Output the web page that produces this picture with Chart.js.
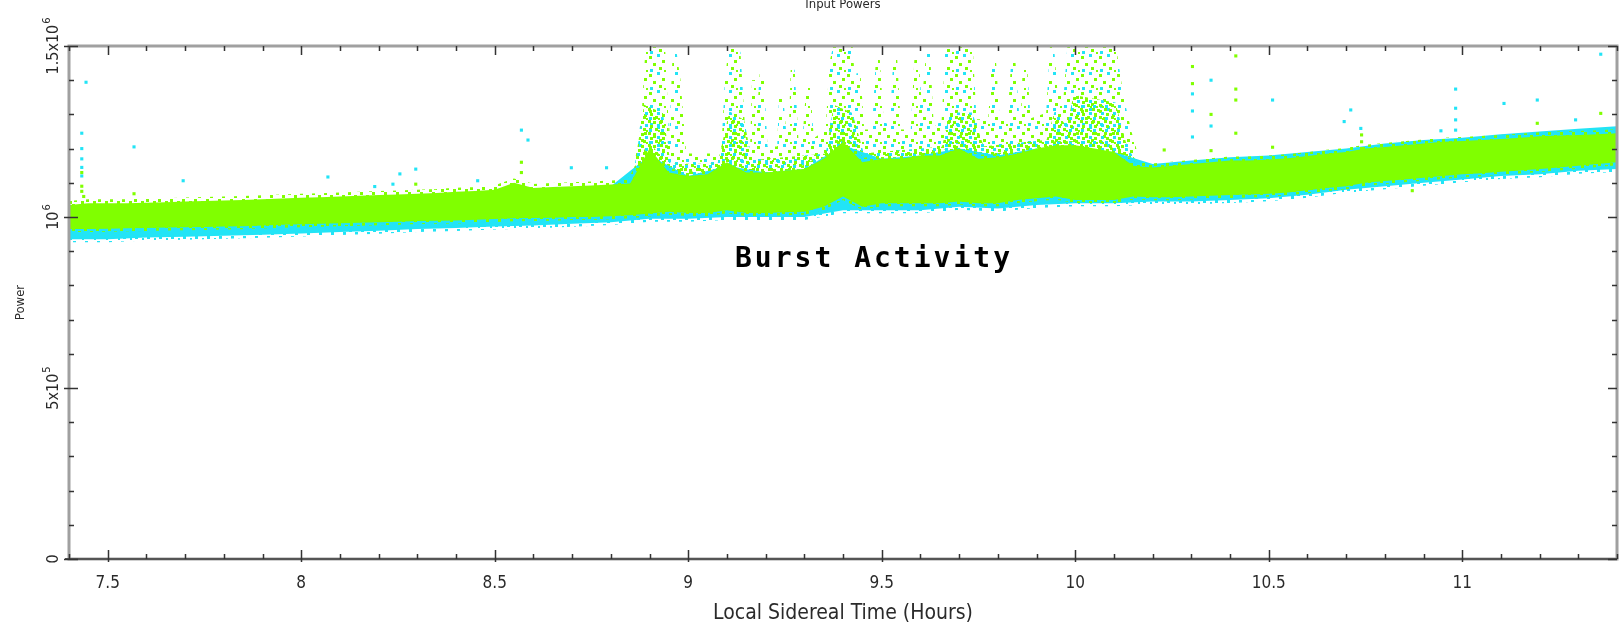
<!DOCTYPE html>
<html>
<head>
<meta charset="utf-8">
<script src="https://cdn.jsdelivr.net/npm/chart.js@4.4.1/dist/chart.umd.min.js"></script>
<style>
  html, body { margin: 0; padding: 0; background: #fff; }
  #wrap { width: 1621px; height: 628px; position: relative; }
</style>
</head>
<body>
<div id="wrap"><canvas id="powerChart"></canvas></div>
<script>
// ============================================================================
// DATA  (power in units of 10^6, time in LST hours)
// ============================================================================
const bandX = [
  7.40, 7.45, 7.50, 7.55, 7.60, 7.65, 7.70, 7.75, 7.80, 7.85,
  7.90, 7.95, 8.00, 8.05, 8.10, 8.15, 8.20, 8.25, 8.30, 8.35,
  8.40, 8.45, 8.50, 8.55, 8.60, 8.65, 8.70, 8.75, 8.80, 8.85,
  8.90, 8.95, 9.00, 9.05, 9.10, 9.15, 9.20, 9.25, 9.30, 9.35,
  9.40, 9.45, 9.50, 9.55, 9.60, 9.65, 9.70, 9.75, 9.80, 9.85,
  9.90, 9.95, 10.00, 10.05, 10.10, 10.15, 10.20, 10.25, 10.30, 10.35,
  10.40, 10.45, 10.50, 10.55, 10.60, 10.65, 10.70, 10.75, 10.80, 10.85,
  10.90, 10.95, 11.00, 11.05, 11.10, 11.15, 11.20, 11.25, 11.30, 11.35,
  11.40,
];
const greenHi = [
  1.035, 1.040, 1.040, 1.040, 1.042, 1.043, 1.045, 1.047, 1.048, 1.050,
  1.052, 1.054, 1.056, 1.058, 1.060, 1.062, 1.064, 1.066, 1.068, 1.070,
  1.074, 1.076, 1.080, 1.100, 1.085, 1.088, 1.090, 1.092, 1.095, 1.098,
  1.200, 1.130, 1.120, 1.125, 1.160, 1.130, 1.130, 1.135, 1.140, 1.170,
  1.220, 1.160, 1.170, 1.170, 1.180, 1.180, 1.200, 1.170, 1.175, 1.185,
  1.200, 1.210, 1.210, 1.200, 1.190, 1.150, 1.145, 1.150, 1.155, 1.160,
  1.165, 1.165, 1.168, 1.172, 1.178, 1.185, 1.190, 1.200, 1.205, 1.210,
  1.215, 1.220, 1.222, 1.225, 1.228, 1.232, 1.236, 1.238, 1.240, 1.242,
  1.245,
];
const greenLo = [
  0.965, 0.965, 0.966, 0.967, 0.968, 0.969, 0.970, 0.971, 0.972, 0.973,
  0.975, 0.977, 0.979, 0.980, 0.982, 0.983, 0.985, 0.986, 0.988, 0.989,
  0.990, 0.992, 0.994, 0.996, 0.997, 0.998, 1.000, 1.000, 1.002, 1.005,
  1.010, 1.015, 1.012, 1.012, 1.020, 1.012, 1.012, 1.014, 1.015, 1.030,
  1.060, 1.030, 1.040, 1.040, 1.040, 1.040, 1.045, 1.040, 1.040, 1.050,
  1.055, 1.060, 1.050, 1.050, 1.050, 1.060, 1.058, 1.058, 1.060, 1.062,
  1.064, 1.066, 1.068, 1.072, 1.078, 1.085, 1.090, 1.100, 1.105, 1.110,
  1.115, 1.120, 1.125, 1.128, 1.132, 1.136, 1.140, 1.145, 1.150, 1.155,
  1.160,
];

const cyanX = [
  7.4, 7.5, 7.6, 7.7, 7.8, 7.9, 8.0, 8.1, 8.2, 8.3,
  8.4, 8.5, 8.6, 8.7, 8.8, 8.9, 9.0, 9.1, 9.2, 9.3,
  9.4, 9.5, 9.6, 9.7, 9.8, 9.9, 10.0, 10.1, 10.2, 10.3,
  10.4, 10.5, 10.6, 10.7, 10.8, 10.9, 11.0, 11.1, 11.2, 11.3,
  11.4,
];
const cyanLo = [
  0.935, 0.935, 0.940, 0.942, 0.945, 0.948, 0.952, 0.956, 0.960, 0.965,
  0.968, 0.972, 0.975, 0.980, 0.985, 0.995, 0.995, 1.000, 1.000, 1.000,
  1.020, 1.020, 1.020, 1.030, 1.025, 1.035, 1.040, 1.040, 1.045, 1.045,
  1.050, 1.055, 1.065, 1.080, 1.090, 1.100, 1.110, 1.120, 1.125, 1.135,
  1.140,
];
const cyanHi = [
  1.020, 1.025, 1.028, 1.030, 1.035, 1.040, 1.045, 1.050, 1.055, 1.060,
  1.065, 1.070, 1.075, 1.080, 1.090, 1.180, 1.120, 1.150, 1.130, 1.140,
  1.210, 1.170, 1.180, 1.200, 1.180, 1.200, 1.200, 1.190, 1.155, 1.165,
  1.175, 1.180, 1.190, 1.200, 1.215, 1.225, 1.232, 1.242, 1.250, 1.258,
  1.265,
];

// burst spikes: outer envelope of the scattered points
const burstX = [
  8.86, 8.885, 8.895, 8.935, 8.945, 8.955, 8.965, 8.975, 8.99, 9.09,
  9.10, 9.11, 9.13, 9.145, 9.165, 9.17, 9.18, 9.19, 9.20, 9.235,
  9.24, 9.25, 9.265, 9.27, 9.28, 9.30, 9.31, 9.32, 9.36, 9.37,
  9.38, 9.42, 9.43, 9.44, 9.45, 9.48, 9.49, 9.50, 9.525, 9.535,
  9.545, 9.58, 9.59, 9.60, 9.61, 9.62, 9.63, 9.66, 9.67, 9.73,
  9.74, 9.78, 9.79, 9.80, 9.83, 9.84, 9.85, 9.865, 9.87, 9.88,
  9.93, 9.94, 9.95, 9.975, 9.985, 10.10, 10.12, 10.14, 10.16,
];
const burstTop = [
  1.10, 1.30, 1.50, 1.50, 1.25, 1.20, 1.48, 1.40, 1.18, 1.18,
  1.40, 1.50, 1.48, 1.20, 1.20, 1.40, 1.25, 1.42, 1.20, 1.20,
  1.36, 1.22, 1.25, 1.43, 1.22, 1.22, 1.38, 1.22, 1.25, 1.45,
  1.50, 1.50, 1.30, 1.42, 1.25, 1.25, 1.46, 1.28, 1.25, 1.46,
  1.25, 1.25, 1.47, 1.30, 1.35, 1.48, 1.25, 1.28, 1.50, 1.50,
  1.28, 1.28, 1.46, 1.28, 1.28, 1.46, 1.30, 1.30, 1.45, 1.28,
  1.30, 1.50, 1.35, 1.35, 1.50, 1.50, 1.35, 1.25, 1.17,
];
// burst spikes: where the points are still dense
const burstMidX = [
  8.86, 8.89, 8.93, 8.95, 9.08, 9.11, 9.14, 9.16, 9.36, 9.38,
  9.42, 9.45, 9.66, 9.68, 9.73, 9.76, 9.93, 9.95, 9.98, 10.00,
  10.10, 10.13, 10.16,
];
const burstMid = [
  1.10, 1.32, 1.30, 1.15, 1.15, 1.30, 1.28, 1.16, 1.18, 1.32,
  1.30, 1.18, 1.20, 1.30, 1.30, 1.20, 1.22, 1.30, 1.25, 1.35,
  1.33, 1.20, 1.15,
];

// isolated points
const cyanDotX = [
  7.444, 7.433, 7.433, 7.433, 7.433, 7.433, 7.568, 7.695, 8.069, 8.190,
  8.237, 8.255, 8.296, 8.456, 8.569, 8.586, 8.698, 8.789, 10.303, 10.303,
  10.303, 10.351, 10.351, 10.510, 10.695, 10.712, 10.738, 10.945, 10.983, 10.983,
  10.983, 10.983, 11.108, 11.194, 11.293, 11.358,
];
const cyanDotY = [
  1.394, 1.245, 1.200, 1.170, 1.145, 1.120, 1.205, 1.106, 1.117, 1.089,
  1.096, 1.126, 1.140, 1.106, 1.254, 1.225, 1.144, 1.144, 1.360, 1.310,
  1.234, 1.400, 1.266, 1.342, 1.279, 1.313, 1.259, 1.252, 1.374, 1.318,
  1.284, 1.254, 1.332, 1.342, 1.284, 1.476,
];
const greenDotX = [
  7.433, 7.433, 7.433, 7.438, 7.568, 8.296, 8.569, 8.569, 10.303, 10.303,
  10.351, 10.351, 10.415, 10.415, 10.415, 10.415, 10.510, 10.230, 10.740, 10.740,
  10.740, 11.194, 11.358, 10.871,
];
const greenDotY = [
  1.130, 1.090, 1.075, 1.060, 1.068, 1.096, 1.160, 1.130, 1.440, 1.390,
  1.300, 1.194, 1.471, 1.374, 1.342, 1.245, 1.204, 1.196, 1.240, 1.220,
  1.200, 1.274, 1.303, 1.077,
];

const xTicks = [7.5, 8, 8.5, 9, 9.5, 10, 10.5, 11];
const yTicks = [0, 0.5, 1, 1.5];
const yTickBase = ["0", "5x10", "10", "1.5x10"];
const yTickExp = ["", "5", "6", "6"];

// ============================================================================
// STYLE
// ============================================================================
const GREEN = "#80ff00";
const CYAN = "#22e4f6";
const TXT = "#2a2a2a";
const FONT = '"DejaVu Sans Condensed", "Liberation Sans Narrow", "DejaVu Sans", sans-serif';

function speckle(size, dots) {
  const c = document.createElement("canvas");
  c.width = size;
  c.height = size;
  const g = c.getContext("2d");
  dots.forEach(([x, y, col]) => {
    g.fillStyle = col;
    g.fillRect(x, y, 3, 3);
  });
  return g.createPattern(c, "repeat");
}

// hand placed dot textures
const burstFill = speckle(18, [
  [1, 2, GREEN], [9, 0, CYAN], [14, 6, GREEN], [5, 9, GREEN],
  [11, 13, GREEN], [2, 15, CYAN], [16, 16, GREEN],
]);
const midFill = speckle(12, [
  [0, 0, GREEN], [5, 1, GREEN], [9, 4, CYAN], [2, 5, GREEN],
  [7, 8, GREEN], [1, 9, CYAN], [10, 10, GREEN],
]);
const greenEdge = speckle(12, [
  [0, 0, GREEN], [6, 3, GREEN], [2, 7, GREEN], [9, 9, GREEN],
]);
const cyanEdge = speckle(12, [
  [1, 1, CYAN], [7, 4, CYAN], [3, 8, CYAN], [10, 10, CYAN],
]);

const pts = (xs, ys) => xs.map((x, i) => ({ x, y: ys[i] }));

const lineBase = {
  pointRadius: 0,
  tension: 0,
  clip: 0,
};

// ============================================================================
// PLUGIN: frame, inward ticks, y labels, annotations
// ============================================================================
const frameTicks = {
  id: "frameTicks",
  afterDraw(chart) {
    const { ctx, chartArea: a, scales } = chart;
    const xs = scales.x;
    const ys = scales.y;
    ctx.save();

    ctx.strokeStyle = "#a0a0a0";
    ctx.lineWidth = 3;
    ctx.strokeRect(a.left, a.top, a.right - a.left, a.bottom - a.top);
    ctx.strokeStyle = "#555";
    ctx.lineWidth = 2;
    ctx.beginPath();
    ctx.moveTo(a.left - 4, a.bottom);
    ctx.lineTo(a.right, a.bottom);
    ctx.stroke();

    // ticks pointing into the plot
    ctx.strokeStyle = "#333";
    ctx.lineWidth = 1.5;
    ctx.beginPath();
    for (let i = 0; i <= 40; i++) {
      const v = 7.4 + i * 0.1;
      const px = Math.round(xs.getPixelForValue(v)) + 0.5;
      const major = Math.abs(v * 2 - Math.round(v * 2)) < 1e-6;
      const len = major ? 9 : 5;
      ctx.moveTo(px, a.bottom + (major ? 3 : 0));
      ctx.lineTo(px, a.bottom - len);
      ctx.moveTo(px, a.top);
      ctx.lineTo(px, a.top + len);
    }
    for (let i = 0; i <= 15; i++) {
      const v = i * 0.1;
      const py = Math.round(ys.getPixelForValue(v)) + 0.5;
      const major = i % 5 === 0;
      const len = major ? 9 : 5;
      ctx.moveTo(a.left - (major ? 5 : 0), py);
      ctx.lineTo(a.left + len, py);
      ctx.moveTo(a.right, py);
      ctx.lineTo(a.right - len, py);
    }
    ctx.stroke();

    // rotated y tick labels with superscripts
    ctx.fillStyle = TXT;
    yTicks.forEach((v, i) => {
      const py = ys.getPixelForValue(v);
      ctx.save();
      ctx.translate(a.left - 17, py);
      ctx.rotate(-Math.PI / 2);
      ctx.font = `16px ${FONT}`;
      const wb = ctx.measureText(yTickBase[i]).width;
      ctx.font = `11px ${FONT}`;
      const we = yTickExp[i] ? ctx.measureText(yTickExp[i]).width + 1 : 0;
      const x0 = -(wb + we) / 2;
      ctx.textBaseline = "alphabetic";
      ctx.textAlign = "left";
      ctx.font = `16px ${FONT}`;
      ctx.fillText(yTickBase[i], x0, 6);
      if (yTickExp[i]) {
        ctx.font = `11px ${FONT}`;
        ctx.fillText(yTickExp[i], x0 + wb + 1, -2);
      }
      ctx.restore();
    });

    // top title (cut off by the image edge)
    ctx.font = `13px ${FONT}`;
    ctx.textAlign = "center";
    ctx.textBaseline = "alphabetic";
    ctx.fillText("Input Powers", 843, 8);

    // annotation
    ctx.fillStyle = "#000";
    ctx.font = 'bold 28px "DejaVu Sans Mono", monospace';
    ctx.letterSpacing = "3px";
    ctx.fillText("Burst Activity", 874, 267);
    ctx.restore();
  },
};

// ============================================================================
// CHART
// ============================================================================
document.addEventListener("DOMContentLoaded", () => {
  const ctx = document.getElementById("powerChart").getContext("2d");

  new Chart(ctx, {
    type: "line",
    data: {
      datasets: [
        {
          ...lineBase,
          data: pts(burstX, burstTop),
          borderColor: burstFill,
          borderWidth: 4,
          backgroundColor: burstFill,
          fill: { value: 1.08 },
          order: 7,
        },
        {
          ...lineBase,
          data: pts(burstMidX, burstMid),
          borderColor: midFill,
          borderWidth: 4,
          backgroundColor: midFill,
          fill: { value: 1.08 },
          order: 6,
        },
        {
          ...lineBase,
          data: pts(cyanX, cyanLo),
          borderColor: cyanEdge,
          borderWidth: 6,
          order: 5,
        },
        {
          ...lineBase,
          data: pts(cyanX, cyanHi),
          borderWidth: 0,
          backgroundColor: CYAN,
          fill: "-1",
          order: 4,
        },
        {
          ...lineBase,
          data: pts(bandX, greenLo),
          borderColor: greenEdge,
          borderWidth: 6,
          order: 3,
        },
        {
          ...lineBase,
          data: pts(bandX, greenHi),
          borderColor: greenEdge,
          borderWidth: 8,
          backgroundColor: GREEN,
          fill: "-1",
          order: 2,
        },
        {
          data: pts(cyanDotX, cyanDotY),
          showLine: false,
          pointStyle: "rect",
          pointRadius: 2.2,
          pointBorderWidth: 0,
          pointBackgroundColor: CYAN,
          clip: 0,
          order: 1,
        },
        {
          data: pts(greenDotX, greenDotY),
          showLine: false,
          pointStyle: "rect",
          pointRadius: 2.2,
          pointBorderWidth: 0,
          pointBackgroundColor: GREEN,
          clip: 0,
          order: 0,
        },
      ],
    },
    options: {
      responsive: true,
      maintainAspectRatio: false,
      animation: false,
      events: [],
      layout: { padding: { top: 46, right: 3, left: 0, bottom: 0 } },
      plugins: {
        legend: { display: false },
        tooltip: { enabled: false },
        title: { display: false },
      },
      scales: {
        x: {
          type: "linear",
          min: 7.4,
          max: 11.4,
          grid: { display: false },
          border: { display: false },
          afterBuildTicks: (s) => {
            s.ticks = xTicks.map((v) => ({ value: v }));
          },
          afterFit: (s) => {
            s.height = 69;
          },
          ticks: {
            color: TXT,
            font: { family: FONT, size: 17 },
            padding: 6,
            maxRotation: 0,
            autoSkip: false,
            callback: (v) => String(v),
          },
          title: {
            display: true,
            text: "Local Sidereal Time (Hours)",
            color: TXT,
            font: { family: FONT, size: 21 },
            padding: { top: 0, bottom: 2 },
          },
        },
        y: {
          type: "linear",
          min: 0,
          max: 1.5,
          grid: { display: false },
          border: { display: false },
          ticks: { display: false },
          afterFit: (s) => {
            s.width = 69;
          },
          title: {
            display: true,
            text: "Power",
            color: TXT,
            font: { family: FONT, size: 13 },
            padding: { top: 13, bottom: 0 },
          },
        },
      },
    },
    plugins: [frameTicks],
  });
});
</script>
</body>
</html>
